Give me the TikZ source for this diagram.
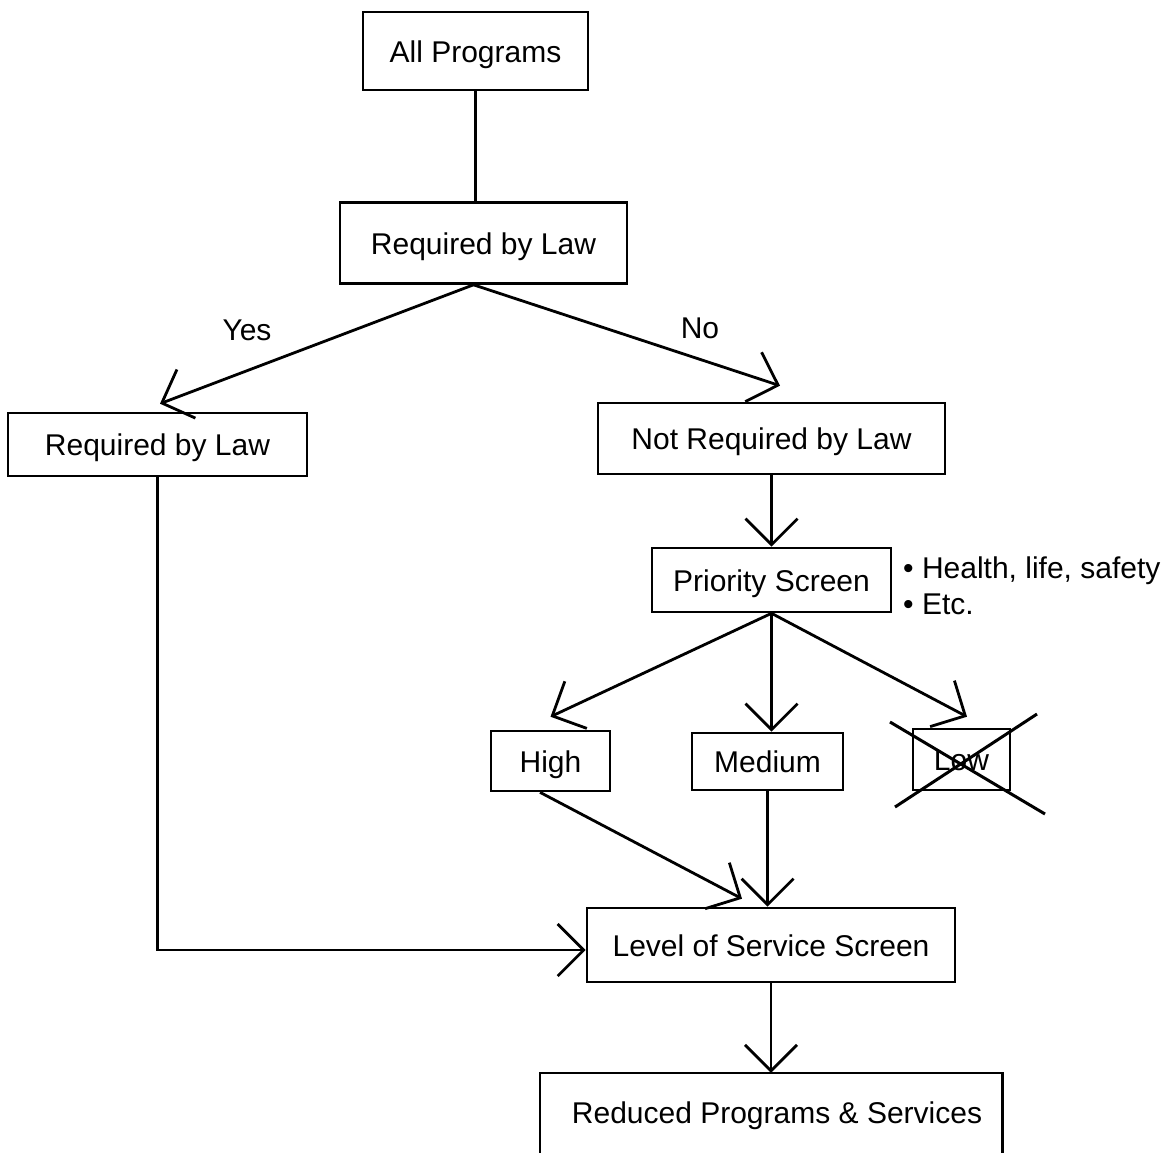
\documentclass[tikz,border=0pt]{standalone}
\usepackage{fontspec}
\setmainfont{Liberation Sans}
\usetikzlibrary{arrows.meta,calc}
\begin{document}
\begin{tikzpicture}[x=1pt,y=-1pt,
  every node/.style={font=\fontsize{30}{36}\selectfont},
  box/.style={draw,line width=2.6pt,inner sep=0pt,text height=22pt,text depth=0pt},
  conn/.style={line width=2.8pt},
  arr/.style={conn,-{Straight Barb[length=26pt,width=52pt,line width=2.8pt]}},
  cross/.style={line width=3pt}]
\clip (0,0) rectangle (1174,1152);
\fill[white] (0,0) rectangle (1174,1152);
% boxes
\node[box,minimum width=225pt,minimum height=78pt] (allp) at (475.5,51) {All Programs};
\node[box,minimum width=287pt,minimum height=81pt] (req) at (483.5,243) {Required by Law};
\node[box,minimum width=299pt,minimum height=63pt] (lreq) at (157.5,444.5) {Required by Law};
\node[box,minimum width=347pt,minimum height=71pt] (notreq) at (771.5,438.5) {Not Required by Law};
\node[box,minimum width=239pt,minimum height=64pt] (ps) at (771.5,580) {Priority Screen};
\node[box,minimum width=119pt,minimum height=60pt] (high) at (550.5,761) {High};
\node[box,minimum width=151pt,minimum height=57pt] (med) at (767.5,761.5) {Medium};
\node[box,minimum width=97pt,minimum height=61pt] (low) at (961.5,759.5) {Low};
\node[box,minimum width=368pt,minimum height=74pt] (los) at (771,945) {Level of Service Screen};
\node[inner sep=0pt,minimum width=462pt,minimum height=78pt,text height=22pt,text depth=0pt] (red) at (771,1112) {\hspace*{12pt}Reduced Programs \& Services};
\draw[line width=2.6pt] ([yshift=-40pt]red.south west) -- (red.north west) -- (red.north east) -- ([yshift=-40pt]red.south east);
% labels
\node (yes) at (247,330) {Yes};
\node (no) at (700,328) {No};
\node[anchor=west,align=left,inner sep=0pt] (bul) at (903,586) {\textbullet\ Health, life, safety\\\textbullet\ Etc.};
% connectors
\draw[conn] (allp.south) -- (allp.south |- req.north);
\draw[arr] ($(req.south)+(-10,0)$) -- ($(lreq.north)+(2.5,-8)$);
\draw[arr] ($(req.south)+(-10,0)$) -- ($(notreq.north)+(8.5,-16)$);
\draw[arr] (notreq.south) -- (ps.north);
\draw[arr] (ps.south) -- ($(high.north)+(0,-13)$);
\draw[arr] (ps.south) -- (ps.south |- med.north);
\draw[arr] (ps.south) -- ($(low.north)+(5.5,-11)$);
\draw[arr] ($(high.south)+(-10.5,0)$) -- ($(los.north)+(-29,-8)$);
\draw[arr] (med.south) -- (med.south |- los.north);
\draw[arr] (lreq.south) |- ($(los.west)+(0,5)$);
\draw[arr] (los.south) -- (red.north);
% cross over Low
\draw[cross] ($(low.center)+(-71.5,-37.5)$) -- ($(low.center)+(83.5,54.5)$);
\draw[cross] ($(low.center)+(75.5,-45.5)$) -- ($(low.center)+(-66.5,47.5)$);
\end{tikzpicture}
\end{document}
